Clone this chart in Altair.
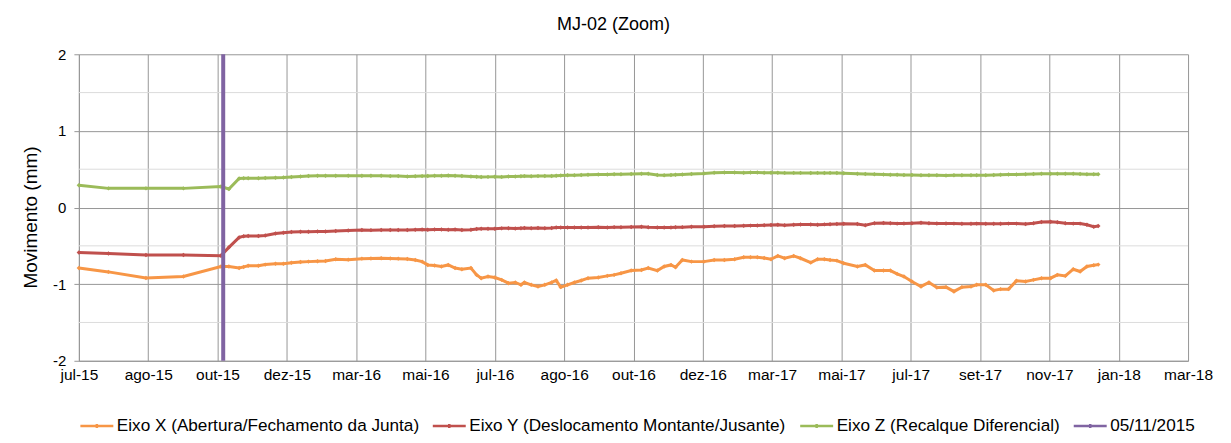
import json
import altair as alt
import pandas as pd

# ---- data ----
rotulos_x = ["jul-15", "ago-15", "out-15", "dez-15", "mar-16", "mai-16", "jul-16", "ago-16",
             "out-16", "dez-16", "mar-17", "mai-17", "jul-17", "set-17", "nov-17", "jan-18", "mar-18"]
passo_dias = 61          # spacing of the date labels (days), axis starts 01/07/2015

# days since 01/07/2015
dias = [0, 26, 59, 92, 125, 132, 141, 145, 149, 158,
        164, 173, 180, 187, 195, 202, 210, 217, 226, 237,
        249, 257, 266, 274, 281, 289, 296, 302, 307, 313,
        319, 325, 331, 337, 345, 350, 354, 360, 366, 372,
        378, 384, 389, 392, 398, 404, 410, 416, 420, 424,
        430, 436, 442, 448, 457, 465, 471, 477, 486, 495,
        501, 509, 515, 521, 525, 531, 539, 550, 559, 568,
        577, 585, 591, 597, 603, 609, 615, 621, 629, 635,
        644, 650, 656, 661, 667, 673, 685, 692, 700, 708,
        714, 720, 726, 733, 741, 748, 755, 763, 770, 777,
        785, 790, 798, 805, 811, 818, 825, 833, 840, 847,
        855, 861, 868, 875, 881, 887, 893, 897]

eixo_x = [-0.79, -0.84, -0.92, -0.90, -0.77, -0.77, -0.79, -0.775, -0.76, -0.76,
          -0.745, -0.735, -0.735, -0.72, -0.712, -0.706, -0.70, -0.697, -0.675, -0.68,
          -0.667, -0.664, -0.662, -0.664, -0.667, -0.672, -0.684, -0.706, -0.749, -0.758,
          -0.77, -0.749, -0.79, -0.805, -0.79, -0.879, -0.922, -0.90, -0.913, -0.944,
          -0.987, -0.978, -1.009, -0.978, -1.009, -1.03, -1.009, -0.978, -0.952, -1.039,
          -1.009, -0.978, -0.952, -0.922, -0.913, -0.892, -0.879, -0.857, -0.823, -0.814,
          -0.79, -0.823, -0.77, -0.749, -0.779, -0.684, -0.706, -0.706, -0.684, -0.684,
          -0.675, -0.649, -0.649, -0.649, -0.66, -0.675, -0.632, -0.662, -0.632, -0.662,
          -0.719, -0.675, -0.675, -0.685, -0.693, -0.727, -0.77, -0.749, -0.823, -0.823,
          -0.823, -0.866, -0.90, -0.965, -1.03, -0.978, -1.045, -1.039, -1.095, -1.039,
          -1.03, -1.009, -1.009, -1.082, -1.065, -1.065, -0.957, -0.965, -0.944, -0.922,
          -0.922, -0.879, -0.892, -0.805, -0.835, -0.77, -0.753, -0.745]

eixo_y = [-0.587, -0.60, -0.62, -0.62, -0.628, -0.52, -0.39, -0.375, -0.372, -0.372,
          -0.366, -0.34, -0.33, -0.318, -0.316, -0.315, -0.314, -0.312, -0.305, -0.30,
          -0.294, -0.295, -0.294, -0.292, -0.294, -0.292, -0.29, -0.288, -0.29, -0.288,
          -0.287, -0.29, -0.288, -0.292, -0.29, -0.28, -0.277, -0.278, -0.276, -0.272,
          -0.27, -0.275, -0.27, -0.268, -0.27, -0.268, -0.27, -0.268, -0.262, -0.26,
          -0.262, -0.26, -0.262, -0.26, -0.258, -0.26, -0.256, -0.258, -0.254, -0.252,
          -0.258, -0.26, -0.262, -0.262, -0.258, -0.256, -0.252, -0.25, -0.245, -0.242,
          -0.24, -0.238, -0.236, -0.234, -0.232, -0.229, -0.226, -0.23, -0.225, -0.222,
          -0.222, -0.224, -0.22, -0.218, -0.214, -0.212, -0.214, -0.232, -0.204, -0.202,
          -0.206, -0.21, -0.208, -0.205, -0.2, -0.205, -0.208, -0.208, -0.21, -0.212,
          -0.212, -0.21, -0.212, -0.212, -0.212, -0.21, -0.21, -0.214, -0.205, -0.19,
          -0.186, -0.192, -0.205, -0.21, -0.21, -0.225, -0.25, -0.242]

eixo_z = [0.29, 0.25, 0.25, 0.25, 0.275, 0.242, 0.38, 0.383, 0.382, 0.382,
          0.385, 0.39, 0.392, 0.398, 0.405, 0.412, 0.415, 0.415, 0.415, 0.416,
          0.415, 0.416, 0.414, 0.41, 0.41, 0.405, 0.408, 0.41, 0.412, 0.414,
          0.416, 0.418, 0.415, 0.412, 0.405, 0.402, 0.398, 0.40, 0.402, 0.40,
          0.404, 0.405, 0.408, 0.41, 0.408, 0.41, 0.412, 0.412, 0.415, 0.418,
          0.42, 0.422, 0.425, 0.428, 0.432, 0.43, 0.435, 0.435, 0.438, 0.44,
          0.44, 0.425, 0.42, 0.425, 0.428, 0.432, 0.438, 0.445, 0.455, 0.458,
          0.456, 0.455, 0.458, 0.456, 0.455, 0.455, 0.454, 0.452, 0.452, 0.452,
          0.45, 0.452, 0.45, 0.452, 0.45, 0.447, 0.44, 0.437, 0.433, 0.43,
          0.428, 0.427, 0.425, 0.424, 0.42, 0.42, 0.42, 0.418, 0.42, 0.42,
          0.42, 0.42, 0.422, 0.425, 0.427, 0.43, 0.432, 0.435, 0.437, 0.44,
          0.44, 0.44, 0.44, 0.44, 0.437, 0.435, 0.433, 0.433]

marco_dias = [127, 127]      # 05/11/2015
marco_valores = [-2, 2]
grade_menor = [-1.5, -0.5, 0.5, 1.5]

series = ["Eixo X (Abertura/Fechamento da Junta)",
          "Eixo Y (Deslocamento Montante/Jusante)",
          "Eixo Z (Recalque Diferencial)",
          "05/11/2015"]
cores = ["#F79646", "#C0504D", "#9BBB59", "#8064A2"]

# ---- tables ----
linhas_df = pd.concat([
    pd.DataFrame({"dia": dias, "valor": eixo_x, "serie": series[0]}),
    pd.DataFrame({"dia": dias, "valor": eixo_y, "serie": series[1]}),
    pd.DataFrame({"dia": dias, "valor": eixo_z, "serie": series[2]}),
], ignore_index=True)
marco_df = pd.DataFrame({"dia": marco_dias, "valor": marco_valores, "serie": series[3]})
grade_df = pd.DataFrame({"valor": grade_menor})

FONTE = "Liberation Sans"
CINZA = "#979797"

ticks_x = [i * passo_dias for i in range(len(rotulos_x))]
label_expr_x = json.dumps(rotulos_x) + f"[round(datum.value / {passo_dias})]"

x_enc = alt.X("dia:Q",
              scale=alt.Scale(domain=[0, ticks_x[-1]], nice=False, zero=False),
              axis=alt.Axis(values=ticks_x, labelExpr=label_expr_x, grid=True,
                            gridColor=CINZA, gridWidth=1, domainColor=CINZA,
                            ticks=False, labelFont=FONTE, labelFontSize=15.5,
                            labelColor="#000000", labelPadding=7, labelFlush=False,
                            labelOverlap=False, title=None))
y_enc = alt.Y("valor:Q",
              scale=alt.Scale(domain=[-2, 2], nice=False),
              axis=alt.Axis(values=[-2, -1, 0, 1, 2], labelExpr="'' + datum.value",
                            grid=True, gridColor=CINZA, gridWidth=1, domainColor=CINZA,
                            tickColor=CINZA, tickSize=5, labelPadding=8,
                            labelFont=FONTE, labelFontSize=15, labelColor="#000000",
                            title="Movimento (mm)", titleFont=FONTE, titleFontSize=19,
                            titleFontWeight="normal", titleColor="#000000",
                            titleX=-42, titleY=163, titleBaseline="alphabetic",
                            titleAlign="center"))

path_linha = "M-1,0H1M0,-0.12V0.12"
legenda = alt.Legend(
    title=None, orient="none", direction="horizontal", legendX=0, legendY=354,
    labelFont=FONTE, labelFontSize=17.2, labelColor="#000000", labelOffset=2,
    labelLimit=600, columnPadding=8, symbolSize=1089, symbolType=path_linha,
    symbolStrokeWidth=2.5, symbolFillColor="transparent")

cor_enc = alt.Color("serie:N", scale=alt.Scale(domain=series, range=cores), legend=legenda)

grade = alt.Chart(grade_df).mark_rule(color="#dcdcdc", strokeWidth=1).encode(y=y_enc)

linhas = alt.Chart(linhas_df).mark_line(
    strokeWidth=3,
    point=alt.OverlayMarkDef(shape="diamond", size=20, filled=True)
).encode(x=x_enc, y=y_enc, color=cor_enc)

marco = alt.Chart(marco_df).mark_line(strokeWidth=4).encode(x=x_enc, y=y_enc, color=cor_enc)

chart = alt.layer(grade, linhas, marco).properties(
    width=1111, height=307,
    title=alt.Title("MJ-02 (Zoom)", font=FONTE, fontSize=18, fontWeight="normal",
                    color="#000000", anchor="middle", dx=-20, offset=12),
    autosize=alt.AutoSizeParams(type="none"),
    padding={"left": 71, "top": 46, "right": 35, "bottom": 78},
).configure_view(stroke=None)

chart.save("out.html", embed_options={"renderer": "svg", "actions": False})
